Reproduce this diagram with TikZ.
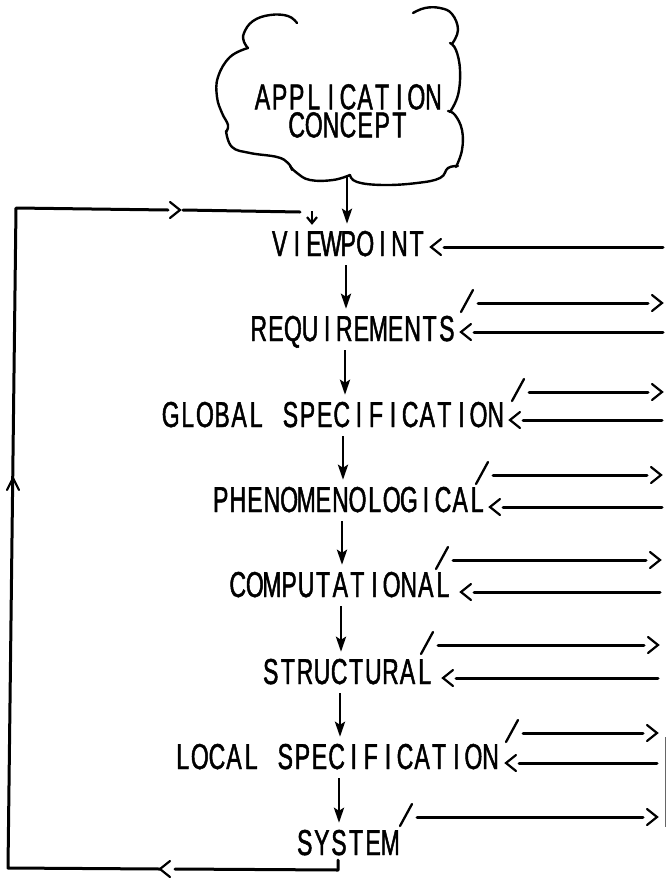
\documentclass[tikz,border=0pt]{standalone}
\usepackage{fontspec}
\setmainfont{Liberation Sans}[FakeStretch=0.64,FakeBold=1.3]
\usetikzlibrary{arrows.meta}
\makeatletter
\newcommand\mono[1]{\@tfor\@ch:=#1\do{\makebox[17.1pt][c]{\@ch}}}
\makeatother
\newcommand\gap{\makebox[17.1pt][c]{\ }}
\tikzset{
  lbl/.style={font=\fontsize{36}{28}\selectfont, inner sep=0pt, anchor=base west, text height=25pt, text depth=0pt},
  wire/.style={line width=3pt, line cap=round, line join=round},
  chev/.style={line width=2.2pt, line cap=round, line join=miter},
  tick/.style={line width=2.3pt, line cap=round},
  cloudline/.style={line width=2.4pt, line cap=round},
  spine/.style={line width=2.8pt, shorten <=9pt, shorten >=7pt, -{Stealth[length=15pt,width=10pt,inset=3pt]}},
  small/.style={line width=2.2pt, shorten >=6pt, -{Straight Barb[length=6pt,width=10pt]}},
  chevl/.pic={\draw[chev] (10,-8) -- (0,0) -- (10,8);},
  chevr/.pic={\draw[chev] (-10,-8) -- (0,0) -- (-10,8);},
  chevu/.pic={\draw[chev] (-6,12) -- (0,0) -- (6,12);},
}
\newcommand\rowin[4]{%
  \pic at (#2,#3) {chevl};
  \coordinate (#1-a) at ({#2+13},#3);
  \coordinate (#1-b) at (#4,#3);
  \draw[wire] (#1-b) -- (#1-a);}
\newcommand\rowout[4]{%
  \coordinate (#1-s) at ({#2-17},{#3+9});
  \coordinate (#1-t) at ({#2-5},{#3-13});
  \draw[tick] (#1-s) -- (#1-t);
  \coordinate (#1-c) at (#2,#3);
  \coordinate (#1-d) at ({#4-14},#3);
  \draw[wire] (#1-c) -- (#1-d);
  \pic at (#4,#3) {chevr};}
\begin{document}
\begin{tikzpicture}[x=1pt,y=-1pt]
\useasboundingbox (0,0) rectangle (667,879);
% cloud
\draw[cloudline] plot[smooth,tension=0.7] coordinates {(297,23) (288,16) (270,15) (253,21) (244,33) (244,42) (248,48)};
\draw[cloudline] plot[smooth,tension=0.7] coordinates {(248,48) (230,57) (218,77) (217,97) (222,113) (228,125) (226,132)};
\draw[cloudline] plot[smooth,tension=0.7] coordinates {(226,131) (232,147) (250,153) (277,157) (288,163) (292,170)};
\draw[cloudline] plot[smooth,tension=0.7] coordinates {(290,166) (297,173) (310,180) (333,180) (350,175)};
\draw[cloudline] plot[smooth,tension=0.7] coordinates {(350,175) (357,182) (383,185) (417,183) (440,178) (448,168) (458,166)};
\draw[cloudline] plot[smooth,tension=0.7] coordinates {(456,167) (462,150) (462,130) (455,115) (448,111)};
\draw[cloudline] plot[smooth,tension=0.7] coordinates {(450,112) (458,95) (460,70) (456,50) (450,43)};
\draw[cloudline] plot[smooth,tension=0.7] coordinates {(452,44) (458,30) (452,14) (440,8) (425,8) (413,13)};
\node[font=\fontsize{36}{28}\selectfont, inner sep=0pt, align=center, anchor=north] (ap) at (348,84) {\mono{APPLICATION}\\\mono{CONCEPT}};
% labels
\node[lbl] (vp) at (271,256) {\mono{VIEWPOINT}};
\node[lbl] (rq) at (250,341) {\mono{REQUIREMENTS}};
\node[lbl] (gs) at (162,427) {\mono{GLOBAL}\gap\mono{SPECIFICATION}};
\node[lbl] (ph) at (212,512) {\mono{PHENOMENOLOGICAL}};
\node[lbl] (cp) at (229,597) {\mono{COMPUTATIONAL}};
\node[lbl] (st) at (262,684) {\mono{STRUCTURAL}};
\node[lbl] (ls) at (174,769) {\mono{LOCAL}\gap\mono{SPECIFICATION}};
\node[lbl] (sy) at (296,855) {\mono{SYSTEM}};
% spine
\coordinate (cb) at (347,176);
\coordinate (x1) at (346,0);
\coordinate (x2) at (345,0);
\coordinate (x3) at (343,0);
\coordinate (x4) at (342,0);
\coordinate (x5) at (341,0);
\coordinate (x6) at (340,0);
\coordinate (x7) at (339,0);
\draw[spine, shorten <=0pt] (cb) -- (vp.north -| cb);
\draw[spine] (vp.south -| x1) -- (rq.north -| x1);
\draw[spine] (rq.south -| x2) -- (gs.north -| x2);
\draw[spine] (gs.south -| x3) -- (ph.north -| x3);
\draw[spine] (ph.south -| x4) -- (cp.north -| x4);
\draw[spine] (cp.south -| x5) -- (st.north -| x5);
\draw[spine] (st.south -| x6) -- (ls.north -| x6);
\draw[spine] (ls.south -| x7) -- (sy.north -| x7);
% right side lines
\rowin{vp}{431}{247}{663}
\rowin{rq}{461}{332}{663}
\rowout{rq}{478}{303}{662}
\rowin{gs}{510}{420}{662}
\rowout{gs}{529}{392}{662}
\rowin{ph}{490}{507}{662}
\rowout{ph}{493}{475}{661}
\rowin{cp}{461}{592}{660}
\rowout{cp}{453}{560}{660}
\rowin{st}{443}{678}{658}
\rowout{st}{438}{645}{658}
\rowin{ls}{506}{763}{657}
\rowout{ls}{523}{733}{657}
\rowout{sy}{417}{817}{657}
% feedback loop
\coordinate (fb1) at (338,870);
\coordinate (fb2) at (175,869);
\coordinate (fb3) at (160,869);
\coordinate (fb4) at (8,868);
\coordinate (fb5) at (16,208);
\coordinate (fb6) at (168,210);
\coordinate (fb7) at (183,210);
\coordinate (fb8) at (300,212);
\draw[wire, shorten <=5pt] (sy.south -| fb1) -- (fb1) -- (fb2);
\pic at (fb3) {chevl};
\draw[wire] (fb3) -- (fb4) -- (fb5) -- (fb6);
\pic at (13,478) {chevu};
\pic at (180,210) {chevr};
\draw[wire] (fb7) -- (fb8);
\coordinate (sa) at (312,211);
\draw[small] (sa) -- (vp.north -| sa);
% edge mark
\coordinate (e1) at (665,737);
\coordinate (e2) at (665,827);
\draw[line width=0.7pt, black!60] (e1) -- (e2);
\end{tikzpicture}
\end{document}
